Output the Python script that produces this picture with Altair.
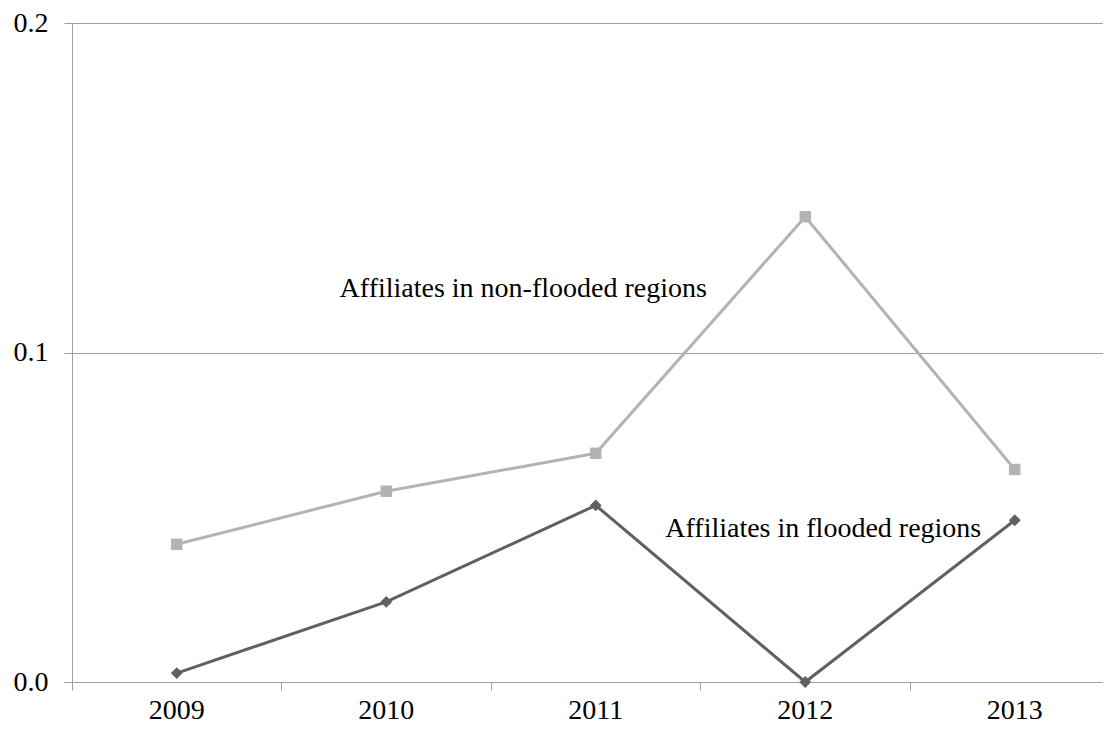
import altair as alt
import pandas as pd

years = ["2009", "2010", "2011", "2012", "2013"]
non_flooded = [0.0418, 0.0579, 0.0694, 0.1412, 0.0645]
flooded = [0.0027, 0.0243, 0.0536, 0.0000, 0.0491]

series_names = ["Affiliates in non-flooded regions", "Affiliates in flooded regions"]
label_years = ["2010", "2012"]
label_values = [0.1194, 0.0464]
label_dx = [137, 18]

FONT = "Liberation Serif"

df = pd.DataFrame({
    "year": years * 2,
    "value": non_flooded + flooded,
    "series": [series_names[0]] * 5 + [series_names[1]] * 5,
})

x = alt.X("year:N", scale=alt.Scale(type="band", domain=years, paddingInner=0, paddingOuter=0,
                                    range=[0, 1047.5]),
          axis=alt.Axis(title=None, labelAngle=0, bandPosition=0, tickExtra=True,
                        labelFont=FONT, labelFontSize=28, labelColor="black",
                        labelPadding=6, tickSize=8, tickColor="#a0a0a0",
                        domainColor="#a0a0a0", grid=False))
y = alt.Y("value:Q", scale=alt.Scale(domain=[0, 0.2], nice=False),
          axis=alt.Axis(title=None, values=[0, 0.1, 0.2], format=".1f",
                        labelFont=FONT, labelFontSize=28, labelColor="black",
                        labelPadding=16, tickSize=8, tickColor="#a0a0a0",
                        domainColor="#a0a0a0", grid=True, gridColor="#a0a0a0",
                        gridWidth=1))

color = alt.Color("series:N", scale=alt.Scale(domain=series_names, range=["#b3b3b3", "#606060"]), legend=None)

base = alt.Chart(df)
lines = base.mark_line(strokeWidth=3).encode(x=x, y=y, color=color, detail="series:N")

pts_nf = alt.Chart(df[df.series == series_names[0]]).mark_point(
    shape="square", filled=True, size=130, opacity=1, color="#b3b3b3").encode(x=x, y=y)
pts_f = alt.Chart(df[df.series == series_names[1]]).mark_point(
    shape="diamond", filled=True, size=140, opacity=1, color="#606060").encode(x=x, y=y)

labels = []
for name, yr, v, dx in zip(series_names, label_years, label_values, label_dx):
    ldf = pd.DataFrame({"year": [yr], "value": [v], "text": [name]})
    labels.append(alt.Chart(ldf).mark_text(font=FONT, fontSize=28, color="black",
                                           align="center", baseline="middle", dx=dx)
                  .encode(x=x, y=y, text="text:N"))

chart = alt.layer(lines, pts_nf, pts_f, *labels).properties(
    width=1031, height=659,
    autosize=alt.AutoSizeParams(type="none"),
    padding={"left": 64, "top": 15, "right": 0, "bottom": 41},
).configure_view(stroke=None).configure(background="white")

chart.save("out.html", embed_options={"renderer": "svg", "actions": False})
